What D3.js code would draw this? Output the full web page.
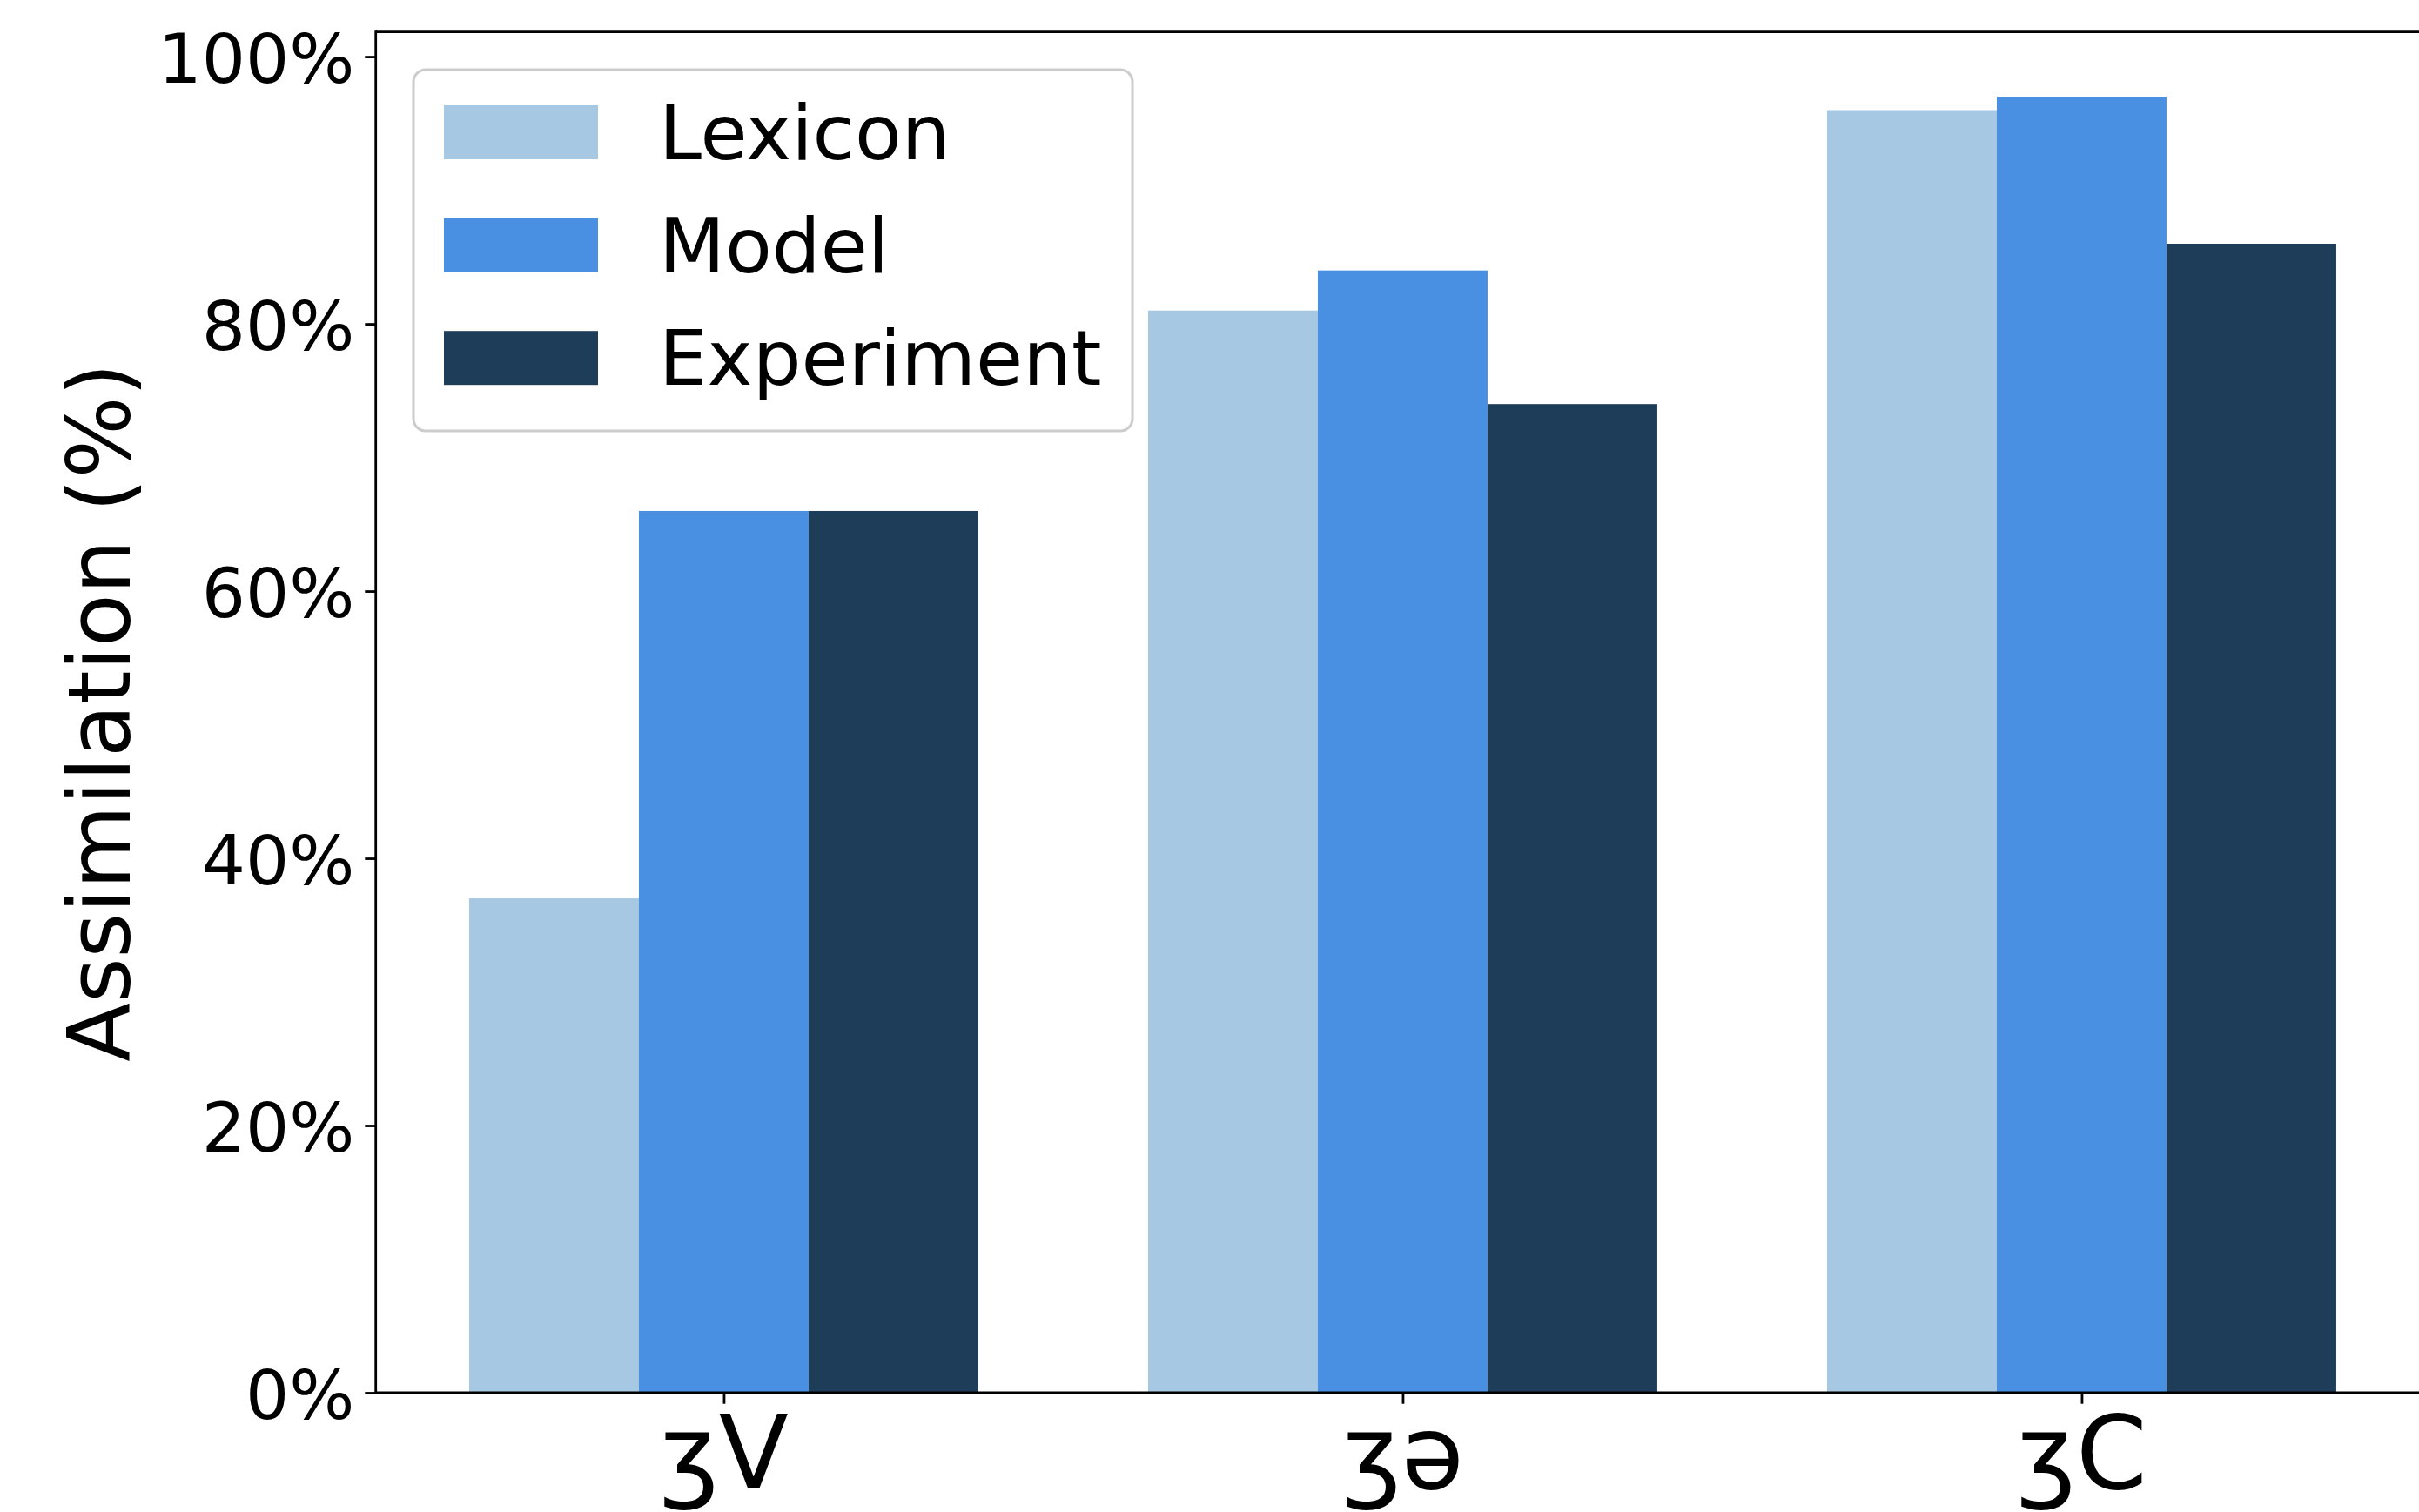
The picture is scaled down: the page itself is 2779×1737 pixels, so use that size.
<!DOCTYPE html>
<html>
<head>
<meta charset="utf-8">
<script src="https://cdn.jsdelivr.net/npm/d3@7"></script>
<style>
  html, body { margin: 0; padding: 0; background: #ffffff; }
  svg { display: block; }
</style>
</head>
<body>
<svg id="chart" width="2779" height="1737"></svg>
<script>
// ---- data ----
const categories = ["ʒV", "ʒə", "ʒC"];
const seriesNames = ["Lexicon", "Model", "Experiment"];
const lexiconValues = [37, 81, 96];
const modelValues = [66, 84, 97];
const experimentValues = [66, 74, 86];
const yTickValues = [0, 20, 40, 60, 80, 100];
const yTitle = "Assimilation (%)";

// ---- styling ----
const colors = ["#a6c8e2", "#4a90e2", "#1e3d59"];
const font = "'DejaVu Sans', 'Liberation Sans', sans-serif";
const W = 2779, H = 1737;
const plotLeft = 431.7, plotTop = 36.7, plotBottom = 1600;
const unitPx = 780;
const barWidth = 0.25;
const lw = 2.8;

const svg = d3.select("#chart");

const x = d3.scaleLinear()
  .domain([-0.5125, 2.5125])
  .range([plotLeft, plotLeft + 3.025 * unitPx]);
const y = d3.scaleLinear()
  .domain([0, 101.85])
  .range([plotBottom, plotTop]);

const series = [lexiconValues, modelValues, experimentValues].map((vals, si) => ({
  name: seriesNames[si],
  color: colors[si],
  offset: (si - 1) * barWidth,
  values: vals
}));

// ---- bars ----
const gBars = svg.append("g");
series.forEach(s => {
  gBars.selectAll(null)
    .data(s.values.map((v, i) => ({ v, i })))
    .enter().append("rect")
    .attr("x", d => x(d.i + s.offset - barWidth / 2))
    .attr("width", d => x(d.i + s.offset + barWidth / 2) - x(d.i + s.offset - barWidth / 2))
    .attr("y", d => y(d.v))
    .attr("height", d => y(0) - y(d.v))
    .attr("fill", s.color);
});

// ---- axes ----
const yAxis = d3.axisLeft(y)
  .tickValues(yTickValues)
  .tickFormat(d => d + "%")
  .tickSizeInner(12.4)
  .tickSizeOuter(0)
  .tickPadding(12);
const gy = svg.append("g").attr("transform", `translate(${plotLeft},0)`).call(yAxis);
gy.select(".domain").remove();
gy.selectAll(".tick line").attr("stroke", "#000").attr("stroke-width", lw);
gy.selectAll(".tick text")
  .attr("font-family", font)
  .attr("font-size", 79)
  .attr("fill", "#000")
  .attr("dy", null)
  .attr("y", 29);

const xAxis = d3.axisBottom(x)
  .tickValues([0, 1, 2])
  .tickFormat(i => categories[i])
  .tickSizeInner(12.7)
  .tickSizeOuter(0)
  .tickPadding(12);
const gx = svg.append("g").attr("transform", `translate(0,${plotBottom})`).call(xAxis);
gx.select(".domain").remove();
gx.selectAll(".tick line").attr("stroke", "#000").attr("stroke-width", lw);
gx.selectAll(".tick text")
  .attr("font-family", font)
  .attr("font-size", 117)
  .attr("fill", "#000")
  .attr("dy", null)
  .attr("y", 110);

// ---- spines ----
const xRight = x.range()[1];
svg.append("line").attr("x1", plotLeft).attr("x2", plotLeft)
  .attr("y1", plotTop - lw / 2).attr("y2", plotBottom + lw / 2)
  .attr("stroke", "#000").attr("stroke-width", lw);
svg.append("line").attr("x1", plotLeft).attr("x2", xRight)
  .attr("y1", plotBottom).attr("y2", plotBottom)
  .attr("stroke", "#000").attr("stroke-width", lw);
svg.append("line").attr("x1", plotLeft).attr("x2", xRight)
  .attr("y1", plotTop).attr("y2", plotTop)
  .attr("stroke", "#000").attr("stroke-width", lw);

// ---- y title ----
svg.append("text")
  .attr("transform", `translate(149,${(plotTop + plotBottom) / 2}) rotate(-90)`)
  .attr("text-anchor", "middle")
  .attr("font-family", font)
  .attr("font-size", 99)
  .attr("fill", "#000")
  .text(yTitle);

// ---- legend ----
const lg = svg.append("g");
lg.append("rect")
  .attr("x", 475).attr("y", 80)
  .attr("width", 826).attr("height", 415)
  .attr("rx", 14).attr("ry", 14)
  .attr("fill", "#ffffff").attr("fill-opacity", 0.8)
  .attr("stroke", "#cccccc").attr("stroke-width", 3);
series.forEach((s, i) => {
  const top = 121 + i * 129.6;
  lg.append("rect")
    .attr("x", 510).attr("y", top)
    .attr("width", 177).attr("height", 62)
    .attr("fill", s.color);
  lg.append("text")
    .attr("x", 757).attr("y", top + 62)
    .attr("font-family", font)
    .attr("font-size", 88)
    .attr("fill", "#000")
    .text(s.name);
});
</script>
</body>
</html>
